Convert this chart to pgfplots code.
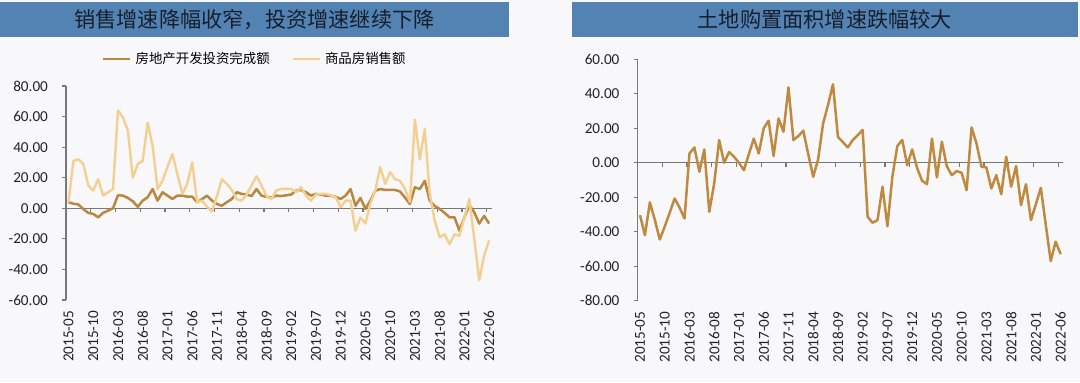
\documentclass[border=0pt]{standalone}
\usepackage{fontspec}
\setmainfont{Carlito}
\newfontfamily\cjk{Noto Sans CJK SC}
\usepackage{pgfplots}
\usepackage{pgfplotstable}
\pgfplotsset{compat=1.18}
\definecolor{bg}{RGB}{248,248,250}
\definecolor{barblue}{RGB}{83,131,178}
\definecolor{titletext}{RGB}{22,30,46}
\definecolor{axisgray}{RGB}{120,120,120}
\definecolor{darkline}{RGB}{186,135,62}
\definecolor{lightline}{RGB}{243,208,145}
\definecolor{landline}{RGB}{190,138,64}
\definecolor{ticktext}{RGB}{35,35,35}

\pgfplotstableread{
k inv sales
0 4 4
1 3 31
2 2.5 32
3 -0.5 29
4 -3 15
5 -3.7 11.6
6 -5.9 19
7 -3 8.3
8 -1.5 10.5
9 0 12.6
10 8.5 64
11 8.3 59.5
12 6.8 51
13 4.6 20
14 1 29
15 5 31
16 7.2 56
17 12.6 41
18 5 12.6
19 10.5 18
20 8.3 27
21 6.1 35.5
22 8.3 22.5
23 8.3 9.4
24 7.6 16
25 7.6 30
26 3.9 4
27 6 5
28 8.3 1
29 5 -2
30 2.8 8
31 1.7 19
32 4 16
33 6 12
34 10.5 6
35 9.4 5
36 9 9
37 8 15
38 12.6 21
39 8.3 15
40 7.5 8
41 7 6
42 8.3 11.6
43 8 12.7
44 8.5 12.7
45 9 12.7
46 11.6 10.5
47 12 13.8
48 10.5 8.3
49 8.3 5
50 9.4 9
51 9 9.4
52 8.3 9.4
53 8.3 8.5
54 7.5 7.2
55 6.1 0.7
56 8.3 5
57 12.6 5
58 1.7 -14.7
59 6.8 -6
60 -0.4 -10
61 5 3
62 11.5 11.6
63 12.6 27
64 12 16
65 12 23.7
66 12 19
67 11 18
68 7 12.7
69 2.8 4
70 13.7 58
71 12.6 32
72 18 52
73 5 9.4
74 1.5 -8
75 -0.4 -19
76 -3 -17
77 -5.9 -23.5
78 -5.9 -17
79 -14.6 -18
80 -6 -6
81 2 6
82 -2.6 -20
83 -10 -47
84 -5 -31
85 -10 -21
}\leftdata

\pgfplotstableread{
k land
0 -30.4
1 -42
2 -23
3 -33
4 -44.5
5 -37
6 -29
7 -20.7
8 -26
9 -32.3
10 5.4
11 8.9
12 -5.2
13 7.7
14 -28.4
15 -12
16 13.2
17 0
18 6.2
19 3.5
20 0
21 -4.3
22 5
23 14
24 5.4
25 20
26 24.4
27 3.9
28 25.7
29 18
30 43.7
31 13.2
32 15.5
33 18.6
34 5
35 -8.1
36 2
37 22.8
38 33.5
39 45.5
40 15
41 12
42 8.9
43 13.2
44 16
45 19
46 -31.3
47 -34.8
48 -33.3
49 -13.9
50 -36.8
51 -8.1
52 9.7
53 13.2
54 -1.4
55 7.7
56 -3
57 -10.4
58 -12.4
59 14
60 -8.5
61 12.2
62 -2
63 -7.2
64 -4.8
65 -5.8
66 -15.9
67 20.5
68 11.2
69 -2.3
70 -2.7
71 -14.9
72 -7.2
73 -18.2
74 3.5
75 -13.9
76 -1.9
77 -24.6
78 -12.4
79 -33.3
80 -24
81 -14.5
82 -36
83 -57
84 -45.8
85 -53
}\rightdata

\pgfplotsset{
  panel/.style={
    anchor=south west,
    scale only axis,
    width=212.8pt,
    xmin=-0.5, xmax=85.5,
    axis x line*=bottom, axis y line*=left,
    x axis line style={draw=none},
    y axis line style={draw=axisgray, line width=0.6pt},
    tick align=outside,
    major tick length=2pt,
    xtick style={draw=none},
    ytick style={draw=axisgray, line width=0.6pt},
    xtick={0,5,...,85},
    xticklabels={2015-05,2015-10,2016-03,2016-08,2017-01,2017-06,2017-11,2018-04,2018-09,2019-02,2019-07,2019-12,2020-05,2020-10,2021-03,2021-08,2022-01,2022-06},
    xticklabel style={rotate=90, anchor=east, font=\fontsize{7.6}{9}\selectfont, text=ticktext},
    yticklabel style={font=\fontsize{7.6}{9}\selectfont, text=ticktext},
    yticklabel shift=3.5pt,
    clip=false,
  },
}

\begin{document}
\begin{tikzpicture}[x=1pt,y=1pt]
\fill[bg] (0,0) rectangle (540,191);
\fill[barblue] (0,172.5) rectangle (254.5,190);
\node[font=\cjk\fontsize{10.6}{12}\selectfont, text=titletext, inner sep=0pt] at (127.25,181.25) {销售增速降幅收窄，投资增速继续下降};
\fill[barblue] (285.9,172.5) rectangle (539,190);
\node[font=\cjk\fontsize{10.6}{12}\selectfont, text=titletext, inner sep=0pt] at (412.45,181.25) {土地购置面积增速跌幅较大};

\begin{axis}[panel,
  at={(33pt,41pt)},
  height=107pt,
  ymin=-60, ymax=80,
  ytick={-60,-40,...,80},
  yticklabels={-60.00,-40.00,-20.00,0.00,20.00,40.00,60.00,80.00},
  legend columns=2,
  legend style={draw=none, fill=none, at={(axis description cs:0.446,1.126)}, anchor=center,
    font=\cjk\fontsize{6.7}{8}\selectfont,
    /tikz/every even column/.append style={column sep=9pt}},
  legend image code/.code={\draw[#1] (0pt,0pt) -- (13.5pt,0pt);},
]
\draw[axisgray, line width=0.6pt] (axis cs:-0.5,0) -- (axis cs:85.5,0);
\pgfplotsinvokeforeach{-0.5,4.5,9.5,14.5,19.5,24.5,29.5,34.5,39.5,44.5,49.5,54.5,59.5,64.5,69.5,74.5,79.5,84.5}{
  \draw[axisgray, line width=0.6pt] (axis cs:#1,0) -- ([yshift=-2pt]axis cs:#1,0);
}
\addplot[darkline, line width=1.25pt, line join=round] table[x=k, y=inv] {\leftdata};
\addlegendentry{房地产开发投资完成额}
\addplot[lightline, line width=1.2pt, line join=round] table[x=k, y=sales] {\leftdata};
\addlegendentry{商品房销售额}
\end{axis}

\begin{axis}[panel,
  at={(318.75pt,40.65pt)},
  height=120.7pt,
  ymin=-80, ymax=60,
  ytick={-80,-60,...,60},
  yticklabels={-80.00,-60.00,-40.00,-20.00,0.00,20.00,40.00,60.00},
]
\draw[axisgray, line width=0.6pt] (axis cs:-0.5,0) -- (axis cs:85.5,0);
\pgfplotsinvokeforeach{-0.5,4.5,9.5,14.5,19.5,24.5,29.5,34.5,39.5,44.5,49.5,54.5,59.5,64.5,69.5,74.5,79.5,84.5}{
  \draw[axisgray, line width=0.6pt] (axis cs:#1,0) -- ([yshift=-2pt]axis cs:#1,0);
}
\addplot[landline, line width=1.25pt, line join=round] table[x=k, y=land] {\rightdata};
\end{axis}
\end{tikzpicture}
\end{document}
